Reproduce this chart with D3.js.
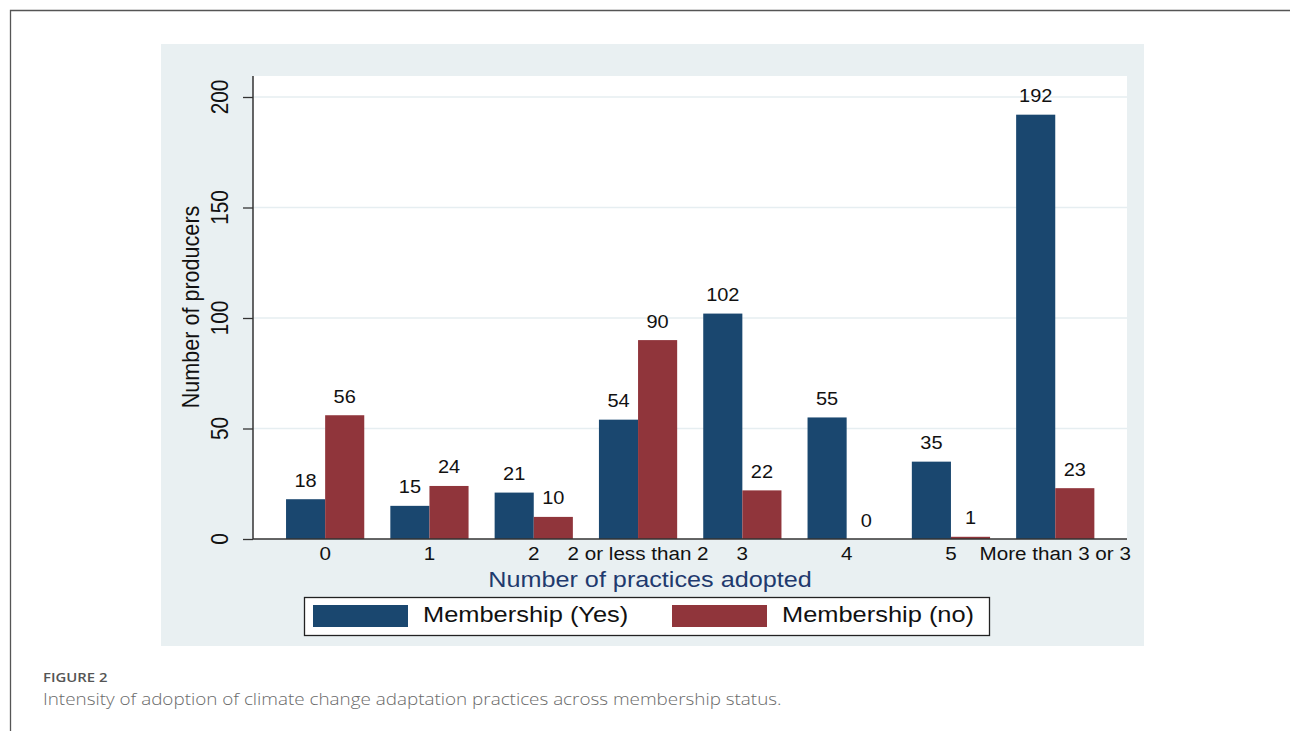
<!DOCTYPE html>
<html>
<head>
<meta charset="utf-8">
<script src="https://cdn.jsdelivr.net/npm/d3@7"></script>
<style>
  html, body { margin: 0; padding: 0; background: #ffffff; }
  svg { display: block; }
</style>
</head>
<body>
<svg id="chart" width="1290" height="731"></svg>
<script>
// ---- data ----
const categories = ["0", "1", "2", "2 or less than 2", "3", "4", "5", "More than 3 or 3"];
const seriesNames = ["Membership (Yes)", "Membership (no)"];
const membershipYes = [18, 15, 21, 54, 102, 55, 35, 192];
const membershipNo = [56, 24, 10, 90, 22, 0, 1, 23];
const yTicks = [0, 50, 100, 150, 200];
const seriesColors = ["#1a476f", "#90353b"];

const SX = 1.11; // horizontal stretch of the reference picture
const svg = d3.select("#chart");
const font = "'Liberation Sans', Arial, Helvetica, sans-serif";

// helper: place a text at (x,y) with horizontal stretch, optional rotation
function placeText(parent, x, y, txt, opts) {
  const rot = opts.rotate ? ` rotate(${opts.rotate})` : "";
  return parent.append("text")
    .attr("transform", `translate(${x},${y}) scale(${SX},1)${rot}`)
    .attr("text-anchor", opts.anchor || "start")
    .attr("font-family", opts.family || font)
    .attr("font-size", opts.size)
    .attr("font-weight", opts.weight || 400)
    .attr("fill", opts.fill || "#111")
    .text(txt);
}

// outer figure frame
svg.append("path")
  .attr("d", "M1290,10.5 H10.5 V731")
  .attr("fill", "none").attr("stroke", "#555").attr("stroke-width", 1.3);

// Stata graph region
svg.append("rect").attr("x", 161).attr("y", 44).attr("width", 983).attr("height", 602)
  .attr("fill", "#e9f0f2");

// plot region
const plot = { left: 253, right: 1127, top: 76, bottom: 539 };
svg.append("rect").attr("x", plot.left).attr("y", plot.top)
  .attr("width", plot.right - plot.left).attr("height", plot.bottom - plot.top)
  .attr("fill", "#ffffff");

const y = d3.scaleLinear().domain([0, 200]).range([plot.bottom, 97]);
const x0 = d3.scaleBand().domain(categories).range([273, 1107.4]).paddingInner(0.25).paddingOuter(0.125);
const x1 = d3.scaleBand().domain(seriesNames).range([0, x0.bandwidth()]);

// gridlines
svg.append("g").selectAll("line").data(yTicks.filter(d => d > 0)).join("line")
  .attr("x1", plot.left).attr("x2", plot.right)
  .attr("y1", d => y(d)).attr("y2", d => y(d))
  .attr("stroke", "#e6eef1").attr("stroke-width", 1.5);

// bars
const rows = categories.map((c, i) => ({ cat: c, vals: [membershipYes[i], membershipNo[i]] }));
const barsG = svg.append("g");
rows.forEach(r => {
  r.vals.forEach((v, j) => {
    const bx = x0(r.cat) + x1(seriesNames[j]);
    barsG.append("rect")
      .attr("x", bx).attr("width", x1.bandwidth())
      .attr("y", y(v)).attr("height", y(0) - y(v))
      .attr("fill", seriesColors[j]);
    placeText(barsG, bx + x1.bandwidth() / 2, y(v) - 12.5, v, { anchor: "middle", size: 18 });
  });
});

// y axis
const yAxis = d3.axisLeft(y).tickValues(yTicks).tickSize(10).tickFormat(() => "");
const ya = svg.append("g").attr("transform", `translate(${plot.left},0)`).call(yAxis);
ya.select(".domain").attr("d", `M0,${plot.top}V${plot.bottom}`).attr("stroke", "#333").attr("stroke-width", 1.5);
ya.selectAll(".tick line").attr("stroke", "#333").attr("stroke-width", 1.3);
yTicks.forEach(t => {
  placeText(svg, 228, y(t), d3.format("d")(t), { anchor: "middle", size: 20.8, rotate: -90 });
});

// x axis
const xa = svg.append("g").attr("transform", `translate(0,${plot.bottom})`)
  .call(d3.axisBottom(x0).tickSize(0).tickFormat(() => ""));
xa.select(".domain").attr("d", `M${plot.left},0H${plot.right}`).attr("stroke", "#333").attr("stroke-width", 1.5);
categories.forEach(c => {
  placeText(svg, x0(c) + x0.bandwidth() / 2, 560, c, { anchor: "middle", size: 18.6 });
});

// axis titles
placeText(svg, 650, 587, "Number of practices adopted", { anchor: "middle", size: 22.7, fill: "#1f3a6e" });
placeText(svg, 199, 307, "Number of producers", { anchor: "middle", size: 21.6, rotate: -90 });

// legend
svg.append("rect").attr("x", 304.5).attr("y", 597.5).attr("width", 685).attr("height", 38)
  .attr("fill", "#fff").attr("stroke", "#222").attr("stroke-width", 1.3);
const legX = [313, 672];
seriesNames.forEach((n, j) => {
  svg.append("rect").attr("x", legX[j]).attr("y", 605).attr("width", 95).attr("height", 22).attr("fill", seriesColors[j]);
  placeText(svg, legX[j] + 110, 622, n, { size: 22.9 });
});

// caption
placeText(svg, 43, 682, "FIGURE 2", { family: "'Open Sans', sans-serif", size: 13.4, weight: 600, fill: "#555" });
placeText(svg, 43, 705, "Intensity of adoption of climate change adaptation practices across membership status.",
  { family: "'Open Sans', sans-serif", size: 17, weight: 300, fill: "#6a6a6a" });
</script>
</body>
</html>
